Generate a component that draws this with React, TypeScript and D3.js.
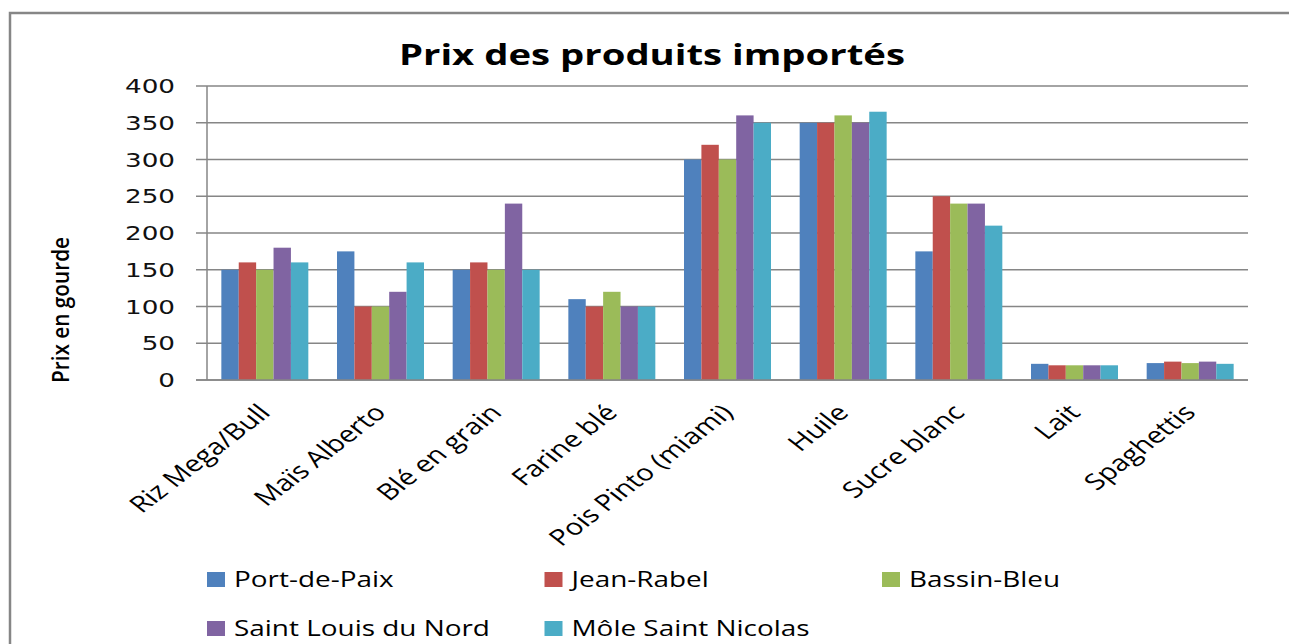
import React from "react";
import * as d3 from "d3";

const categories = [
  "Riz Mega/Bull",
  "Maïs Alberto",
  "Blé en grain",
  "Farine blé",
  "Pois Pinto (miami)",
  "Huile",
  "Sucre blanc",
  "Lait",
  "Spaghettis",
];

const seriesNames = [
  "Port-de-Paix",
  "Jean-Rabel",
  "Bassin-Bleu",
  "Saint Louis du Nord",
  "Môle Saint Nicolas",
];

const portDePaix = [150, 175, 150, 110, 300, 350, 175, 22, 23];
const jeanRabel = [160, 100, 160, 100, 320, 350, 250, 20, 25];
const bassinBleu = [150, 100, 150, 120, 300, 360, 240, 20, 23];
const saintLouis = [180, 120, 240, 100, 360, 350, 240, 20, 25];
const moleSaintNicolas = [160, 160, 150, 100, 350, 365, 210, 20, 22];

const seriesValues = [portDePaix, jeanRabel, bassinBleu, saintLouis, moleSaintNicolas];
const colors = ["#4F81BD", "#C0504D", "#9BBB59", "#8064A2", "#4BACC6"];
const yTicks = [0, 50, 100, 150, 200, 250, 300, 350, 400];

const W = 1289;
const H = 644;
const left = 207;
const right = 1248;
const top = 86;
const bottom = 380;
const stretch = 1.3;

export default function App() {
  const x0 = d3.scaleBand().domain(categories).range([left, right]).paddingInner(0).paddingOuter(0);
  const groupW = x0.bandwidth() * 0.752;
  const x1 = d3
    .scaleBand()
    .domain(seriesNames)
    .range([(x0.bandwidth() - groupW) / 2, (x0.bandwidth() + groupW) / 2]);
  const y = d3.scaleLinear().domain([0, 400]).range([bottom, top]);
  const grid = "#868686";
  const font = "'Open Sans', sans-serif";

  return (
    <svg
      width={W}
      height={H}
      style={{ position: "absolute", left: 0, top: 0, background: "#fff" }}
    >
      <rect x={10} y={13} width={1400} height={800} fill="#fff" stroke={grid} strokeWidth={2.5} />
      <text
        x={652}
        y={65}
        textAnchor="middle"
        fontFamily={font}
        fontWeight="bold"
        fontSize={29}
        textLength={506}
        lengthAdjust="spacingAndGlyphs"
        fill="#000"
      >
        Prix des produits importés
      </text>
      {yTicks.map((t) => (
        <g key={t}>
          <line x1={196} x2={right} y1={y(t)} y2={y(t)} stroke={grid} strokeWidth={1.5} />
          <text
            transform={`translate(175,${y(t) + 7}) scale(1.38,1)`}
            textAnchor="end"
            fontFamily="'DejaVu Sans', sans-serif"
            fontSize={19}
            fill="#111"
          >
            {t}
          </text>
        </g>
      ))}
      <line x1={left} x2={left} y1={top} y2={bottom} stroke={grid} strokeWidth={1.5} />
      <text
        transform={`translate(69,310) scale(${stretch},1) rotate(-90)`}
        textAnchor="middle"
        fontFamily={font}
        fontWeight={600}
        fontSize={18}
        textLength={146}
        lengthAdjust="spacingAndGlyphs"
        fill="#000"
      >
        Prix en gourde
      </text>
      {seriesValues.map((vals, si) => (
        <g key={si}>
          {vals.map((v, ci) => (
            <rect
              key={ci}
              x={(x0(categories[ci]) as number) + (x1(seriesNames[si]) as number)}
              y={y(v)}
              width={x1.bandwidth()}
              height={bottom - y(v)}
              fill={colors[si]}
            />
          ))}
        </g>
      ))}
      <line x1={196} x2={right} y1={bottom} y2={bottom} stroke={grid} strokeWidth={1.5} />
      {categories.map((c) => {
        const cx = (x0(c) as number) + x0.bandwidth() / 2;
        return (
          <text
            key={c}
            transform={`translate(${cx + 7},414) scale(${stretch},1) rotate(-45)`}
            textAnchor="end"
            fontFamily={font}
            fontSize={22.5}
            fill="#000"
          >
            {c}
          </text>
        );
      })}
      {seriesNames.map((s, i) => {
        const col = i % 3;
        const row = Math.floor(i / 3);
        const lx = 207 + col * 337.5;
        const ly = 587 + row * 49;
        return (
          <g key={s}>
            <rect x={lx} y={ly - 15} width={18} height={15} fill={colors[i]} />
            <text
              transform={`translate(${lx + 27},${ly}) scale(1.33,1)`}
              fontFamily={font}
              fontSize={21}
              fill="#000"
            >
              {s}
            </text>
          </g>
        );
      })}
    </svg>
  );
}
